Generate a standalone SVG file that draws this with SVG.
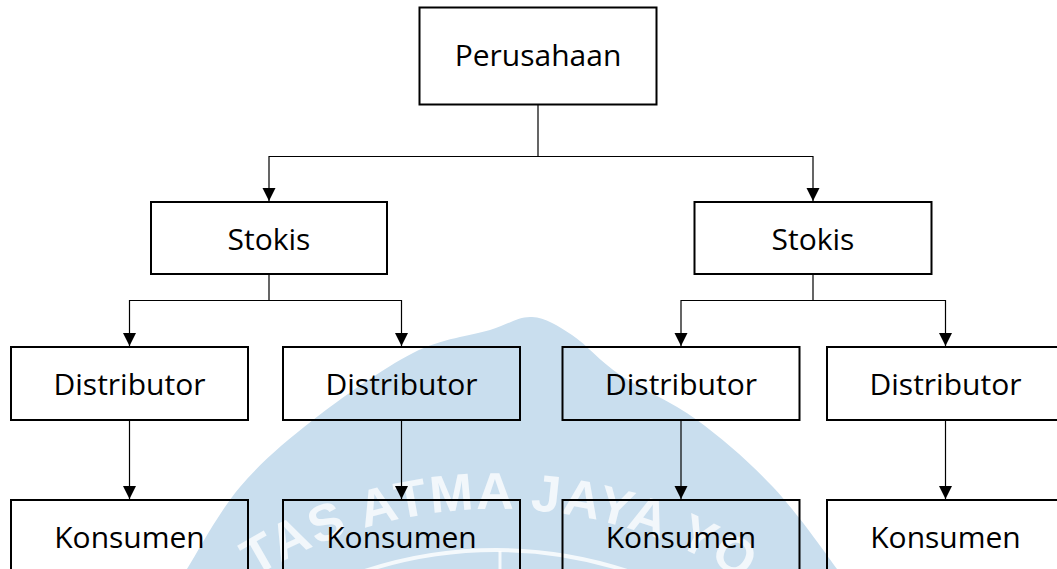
<svg xmlns="http://www.w3.org/2000/svg" width="1057" height="569" viewBox="0 0 1057 569">
  <style>
    .box { fill: none; stroke: #000; stroke-width: 2; }
    .lbl { font-family: "Open Sans", "Noto Sans", "Liberation Sans", sans-serif; font-size: 30px; fill: #000; text-anchor: middle; }
    .conn { fill: none; stroke: #000; stroke-width: 1.2; }
    .wm-text { font-family: "Liberation Sans", Arial, sans-serif; font-size: 52px; font-weight: bold; fill: #ffffff; fill-opacity: 0.75; }
  </style>
  <defs>
    <marker id="arrow" markerUnits="userSpaceOnUse" markerWidth="14" markerHeight="14" refX="13" refY="6.5" orient="auto">
      <path d="M0,0 L13,6.5 L0,13 z" fill="#000"/>
    </marker>
    <path id="wmArc" d="M 35,970 A 461 461 0 0 1 957,970"/>
  </defs>
  <rect x="0" y="0" width="1057" height="569" fill="#ffffff"/>

  <g id="watermark">
    <path d="M 187,569 C 198.7,550.2 219,511.8 240,487 C 261,462.2 284.2,442.3 313,420 C 341.8,397.7 383.5,368 413,353 C 442.5,338 470.2,336 490,330 C 509.8,324 518.3,316.2 532,317 C 545.7,317.8 557.3,325.3 572,335 C 586.7,344.7 599.2,360.8 620,375 C 640.8,389.2 671.5,401.3 697,420 C 722.5,438.7 749.7,462.2 773,487 C 796.3,511.8 823.3,550.2 837,569 L 845,580 L 180,580 Z" fill="#c9deee"/>
    <text class="wm-text"><textPath href="#wmArc" startOffset="470" textLength="515" lengthAdjust="spacing">TAS ATMA JAYA YO</textPath></text>
    <circle cx="496" cy="970" r="420" fill="none" stroke="#ffffff" stroke-opacity="0.8" stroke-width="4"/>
    <line x1="500" y1="551" x2="500" y2="569" stroke="#ffffff" stroke-opacity="0.8" stroke-width="3"/>
  </g>

  <g id="connectors">
    <path class="conn" d="M538,104.5 V156.5 H269 V201" marker-end="url(#arrow)"/>
    <path class="conn" d="M538,156.5 H813 V201" marker-end="url(#arrow)"/>
    <path class="conn" d="M269,274 V300.5 H129.5 V346" marker-end="url(#arrow)"/>
    <path class="conn" d="M269,300.5 H401.5 V346" marker-end="url(#arrow)"/>
    <path class="conn" d="M813,274 V300.5 H681 V346" marker-end="url(#arrow)"/>
    <path class="conn" d="M813,300.5 H945.5 V346" marker-end="url(#arrow)"/>
    <path class="conn" d="M129.5,420 V499" marker-end="url(#arrow)"/>
    <path class="conn" d="M401.5,420 V499" marker-end="url(#arrow)"/>
    <path class="conn" d="M681,420 V499" marker-end="url(#arrow)"/>
    <path class="conn" d="M945.5,420 V499" marker-end="url(#arrow)"/>
  </g>

  <g id="perusahaan">
    <rect class="box" x="419.5" y="7.5" width="237" height="97"/>
    <text class="lbl" x="538" y="65.5">Perusahaan</text>
  </g>
  <g id="stokis-1">
    <rect class="box" x="151" y="202" width="236" height="72"/>
    <text class="lbl" x="269" y="249.5">Stokis</text>
  </g>
  <g id="stokis-2">
    <rect class="box" x="694.5" y="202" width="237" height="72"/>
    <text class="lbl" x="813" y="249.5">Stokis</text>
  </g>
  <g id="distributor-1">
    <rect class="box" x="11" y="347" width="237" height="73"/>
    <text class="lbl" x="129.5" y="395">Distributor</text>
  </g>
  <g id="distributor-2">
    <rect class="box" x="283" y="347" width="237" height="73"/>
    <text class="lbl" x="401.5" y="395">Distributor</text>
  </g>
  <g id="distributor-3">
    <rect class="box" x="562.5" y="347" width="237" height="73"/>
    <text class="lbl" x="681" y="395">Distributor</text>
  </g>
  <g id="distributor-4">
    <rect class="box" x="827" y="347" width="237" height="73"/>
    <text class="lbl" x="945.5" y="395">Distributor</text>
  </g>
  <g id="konsumen-1">
    <rect class="box" x="11" y="500" width="237" height="75"/>
    <text class="lbl" x="129.5" y="547.5">Konsumen</text>
  </g>
  <g id="konsumen-2">
    <rect class="box" x="283" y="500" width="237" height="75"/>
    <text class="lbl" x="401.5" y="547.5">Konsumen</text>
  </g>
  <g id="konsumen-3">
    <rect class="box" x="562.5" y="500" width="237" height="75"/>
    <text class="lbl" x="681" y="547.5">Konsumen</text>
  </g>
  <g id="konsumen-4">
    <rect class="box" x="827" y="500" width="237" height="75"/>
    <text class="lbl" x="945.5" y="547.5">Konsumen</text>
  </g>
</svg>
